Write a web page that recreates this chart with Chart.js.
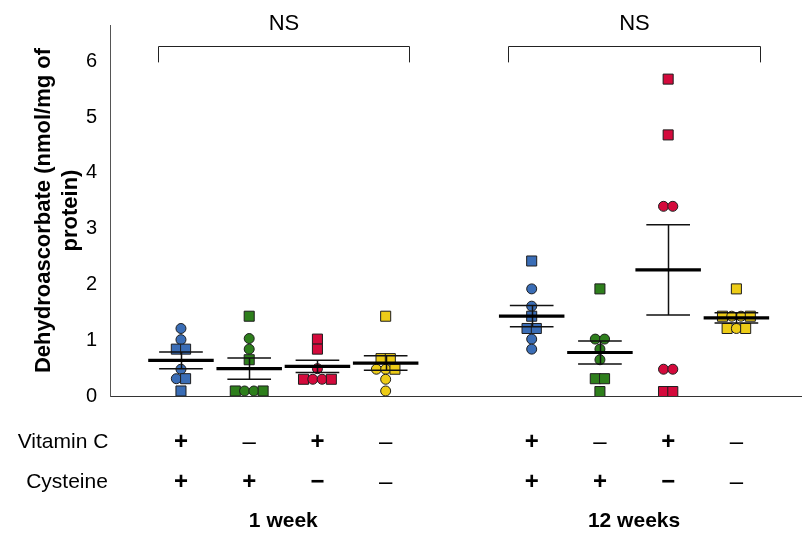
<!DOCTYPE html>
<html>
<head>
<meta charset="utf-8">
<script src="https://cdn.jsdelivr.net/npm/chart.js@4.4.1/dist/chart.umd.min.js"></script>
<style>
  html, body { margin: 0; padding: 0; background: #fff; }
  canvas { display: block; }
</style>
</head>
<body>
<canvas id="chart" width="810" height="536"></canvas>
<script>
// ---- Data -----------------------------------------------------------------
const periods = ['1 week', '12 weeks'];
// treatment rows under each group ('−' bold minus, '–' plain dash)
const vitaminC = ['+', '–', '+', '–', '+', '–', '+', '–'];
const cysteine = ['+', '+', '−', '–', '+', '+', '−', '–'];

// individual animals, nmol/mg of protein; subgroup A = circle, B = square
const wk1VitCCys = [1.21, 1.01, 0.84, 0.84, 0.48, 0.31, 0.31, 0.09];
const wk1VitCCysSub = ['A', 'A', 'B', 'B', 'A', 'A', 'B', 'B'];
const wk1Cys = [1.43, 1.03, 0.84, 0.65, 0.09, 0.09, 0.09, 0.09];
const wk1CysSub = ['B', 'A', 'A', 'B', 'B', 'A', 'A', 'B'];
const wk1VitC = [1.02, 0.84, 0.49, 0.30, 0.30, 0.30, 0.30];
const wk1VitCSub = ['B', 'B', 'A', 'B', 'A', 'A', 'B'];
const wk1None = [1.43, 0.67, 0.67, 0.48, 0.48, 0.48, 0.30, 0.09];
const wk1NoneSub = ['B', 'B', 'B', 'A', 'A', 'B', 'A', 'A'];

const wk12VitCCys = [2.42, 1.92, 1.61, 1.43, 1.21, 1.21, 1.02, 0.84];
const wk12VitCCysSub = ['B', 'A', 'A', 'B', 'B', 'B', 'A', 'A'];
const wk12Cys = [1.92, 1.02, 1.02, 0.84, 0.65, 0.31, 0.31, 0.08];
const wk12CysSub = ['B', 'A', 'A', 'A', 'A', 'B', 'B', 'B'];
const wk12VitC = [5.68, 4.68, 3.40, 3.40, 0.48, 0.48, 0.08, 0.08];
const wk12VitCSub = ['B', 'B', 'A', 'A', 'A', 'A', 'B', 'B'];
const wk12None = [1.92, 1.43, 1.43, 1.43, 1.43, 1.21, 1.21, 1.21];
const wk12NoneSub = ['B', 'B', 'A', 'A', 'B', 'B', 'A', 'B'];

// group mean and SEM
const groupMean = [0.64, 0.49, 0.53, 0.59, 1.43, 0.78, 2.26, 1.40];
const groupSem = [0.15, 0.19, 0.11, 0.13, 0.19, 0.205, 0.81, 0.09];

const significance = ['NS', 'NS'];

// ---- Layout helpers -------------------------------------------------------
const groupValues = [wk1VitCCys, wk1Cys, wk1VitC, wk1None, wk12VitCCys, wk12Cys, wk12VitC, wk12None];
const groupSubs = [wk1VitCCysSub, wk1CysSub, wk1VitCSub, wk1NoneSub, wk12VitCCysSub, wk12CysSub, wk12VitCSub, wk12NoneSub];
const palette = ['#3A6DB6', '#2E7F1C', '#D40A3C', '#EDCC17'];
const FONT = '"Liberation Sans", Arial, sans-serif';

const PERIOD_GAP = 1.14;           // extra space between the two time points
const JITTER = 0.136;              // horizontal step between tied values
const MEAN_HALF = 0.48;
const CAP_HALF = 0.32;

const groupX = groupValues.map((_, i) => i + 1 + (i >= 4 ? PERIOD_GAP : 0));

// spread tied values side by side, in the listed order
function spreadTies(values) {
  const offsets = new Array(values.length).fill(0);
  const ties = new Map();
  values.forEach((v, i) => {
    const k = v.toFixed(2);
    if (!ties.has(k)) ties.set(k, []);
    ties.get(k).push(i);
  });
  ties.forEach(idx => idx.forEach((i, j) => { offsets[i] = (j - (idx.length - 1) / 2) * JITTER; }));
  return offsets;
}

const datasets = groupValues.map((vals, g) => {
  const offs = spreadTies(vals);
  const subs = groupSubs[g];
  return {
    label: 'group ' + (g + 1),
    data: vals.map((v, i) => ({ x: groupX[g] + offs[i], y: v })),
    pointStyle: subs.map(s => (s === 'A' ? 'circle' : 'rect')),
    pointRadius: subs.map(s => (s === 'A' ? 5 : 7.1)),
    pointHoverRadius: subs.map(s => (s === 'A' ? 5 : 7.1)),
    backgroundColor: palette[g % 4],
    borderColor: '#1e1e1e',
    borderWidth: 1,
    showLine: false
  };
});

// mean ± SEM bars, comparison brackets and treatment table
const annotations = {
  id: 'annotations',
  afterDatasetsDraw(chart) {
    const { ctx, scales: { x, y } } = chart;
    ctx.save();
    groupX.forEach((gx, i) => {
      const m = groupMean[i], s = groupSem[i];
      const cx = Math.round(x.getPixelForValue(gx)) + 0.5;
      const yHi = y.getPixelForValue(m + s);
      const yLo = y.getPixelForValue(m - s);
      const yM = y.getPixelForValue(m);
      ctx.strokeStyle = '#111';
      ctx.lineWidth = 1.5;
      ctx.beginPath();
      ctx.moveTo(cx, yHi); ctx.lineTo(cx, yLo);
      ctx.moveTo(x.getPixelForValue(gx - CAP_HALF), yHi); ctx.lineTo(x.getPixelForValue(gx + CAP_HALF), yHi);
      ctx.moveTo(x.getPixelForValue(gx - CAP_HALF), yLo); ctx.lineTo(x.getPixelForValue(gx + CAP_HALF), yLo);
      ctx.stroke();
      ctx.lineWidth = 3.2;
      ctx.strokeStyle = '#000';
      ctx.beginPath();
      ctx.moveTo(x.getPixelForValue(gx - MEAN_HALF), yM); ctx.lineTo(x.getPixelForValue(gx + MEAN_HALF), yM);
      ctx.stroke();
    });
    ctx.restore();
  },
  afterDraw(chart) {
    const { ctx, scales: { x, y }, chartArea } = chart;
    ctx.save();
    // brackets over each time point
    const yBar = Math.round(y.getPixelForValue(6.27)) + 0.5;
    const yFoot = y.getPixelForValue(5.98);
    periods.forEach((p, k) => {
      const first = groupX[k * 4], last = groupX[k * 4 + 3];
      const xl = Math.round(x.getPixelForValue(first - 0.34)) + 0.5;
      const xr = Math.round(x.getPixelForValue(last + 0.34)) + 0.5;
      ctx.strokeStyle = '#222';
      ctx.lineWidth = 1;
      ctx.beginPath();
      ctx.moveTo(xl, yFoot); ctx.lineTo(xl, yBar); ctx.lineTo(xr, yBar); ctx.lineTo(xr, yFoot);
      ctx.stroke();
      ctx.fillStyle = '#000';
      ctx.font = '22px ' + FONT;
      ctx.textAlign = 'center';
      ctx.textBaseline = 'middle';
      ctx.fillText(significance[k], (xl + xr) / 2, yBar - 23);
    });

    // treatment table below the axis
    const rowVit = chartArea.bottom + 46;
    const rowCys = chartArea.bottom + 86;
    const rowPeriod = chartArea.bottom + 125;
    ctx.fillStyle = '#000';
    ctx.textAlign = 'center';
    ctx.textBaseline = 'middle';
    ctx.font = '21px ' + FONT;
    ctx.fillText('Vitamin C', 63, rowVit);
    ctx.fillText('Cysteine', 67, rowCys);
    const drawSign = (sym, cx, cy) => {
      ctx.font = (sym === '–' ? '' : 'bold ') + '24px ' + FONT;
      ctx.fillText(sym, cx, cy);
    };
    groupX.forEach((gx, i) => {
      const cx = x.getPixelForValue(gx);
      drawSign(vitaminC[i], cx, rowVit);
      drawSign(cysteine[i], cx, rowCys);
    });
    ctx.font = 'bold 21px ' + FONT;
    periods.forEach((p, k) => {
      const cx = (x.getPixelForValue(groupX[k * 4]) + x.getPixelForValue(groupX[k * 4 + 3])) / 2;
      ctx.fillText(p, cx, rowPeriod);
    });
    ctx.restore();
  }
};

new Chart(document.getElementById('chart'), {
  type: 'scatter',
  data: { datasets },
  options: {
    responsive: false,
    animation: false,
    devicePixelRatio: 1,
    layout: { padding: { left: 0, right: 5, top: 20, bottom: 140 } },
    plugins: { legend: { display: false }, tooltip: { enabled: false } },
    scales: {
      x: {
        type: 'linear',
        min: -0.04,
        max: 10.1,
        grid: { display: false, drawTicks: false },
        border: { display: true, color: '#333', width: 1 },
        ticks: { display: false }
      },
      y: {
        min: 0,
        max: 6.65,
        afterFit(scale) { scale.width = 110; },
        grid: { display: false, drawTicks: false },
        border: { display: true, color: '#555', width: 1 },
        ticks: {
          stepSize: 1,
          includeBounds: false,
          padding: 13,
          color: '#000',
          font: { family: FONT, size: 20 },
          callback: v => (Number.isInteger(v) ? String(v) : '')
        },
        title: {
          display: true,
          text: ['Dehydroascorbate (nmol/mg of', 'protein)'],
          color: '#000',
          font: { family: FONT, size: 22, weight: 'bold', lineHeight: 1.22 },
          padding: { top: 31, bottom: 0 }
        }
      }
    }
  },
  plugins: [annotations]
});
</script>
</body>
</html>
